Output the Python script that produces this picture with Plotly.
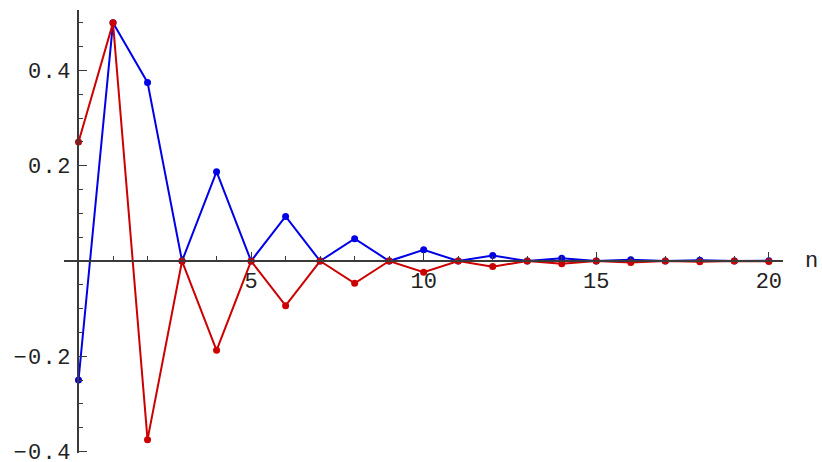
import plotly.graph_objects as go

n = list(range(21))
blue = [-0.25, 0.5, 0.375, 0, 0.1875, 0, 0.09375, 0, 0.046875, 0, 0.0234375, 0,
        0.01171875, 0, 0.005859375, 0, 0.0029296875, 0, 0.00146484375, 0, 0.000732421875]
red = [0.25, 0.5, -0.375, 0, -0.1875, 0, -0.09375, 0, -0.046875, 0, -0.0234375, 0,
       -0.01171875, 0, -0.005859375, 0, -0.0029296875, 0, -0.00146484375, 0, -0.000732421875]

hs = "\u200a"
x_tickvals = [0, 5, 10, 15, 20]
x_ticktext = ["", "5", "10", "15", "20"]
y_tickvals = [-0.4, -0.2, 0, 0.2, 0.4]
y_ticktext = ["\u2212" + hs + "0" + hs + "." + hs + "4",
              "\u2212" + hs + "0" + hs + "." + hs + "2",
              "",
              "0" + hs + "." + hs + "2",
              "0" + hs + "." + hs + "4"]

xmin, xmax = -0.42, 20.41
ymin, ymax = -0.403, 0.527

fig = go.Figure()
fig.add_trace(go.Scatter(x=n, y=blue, mode="lines+markers",
                         line=dict(color="#0000e6", width=2),
                         marker=dict(color="#0000e6", size=7), cliponaxis=False))
fig.add_trace(go.Scatter(x=n, y=red, mode="lines+markers",
                         line=dict(color="#cc0000", width=2),
                         marker=dict(color="#cc0000", size=7), cliponaxis=False))

font = dict(family="Liberation Mono", size=22, color="#222222")
axcol = "#3a3a3a"

fig.update_layout(
    width=822, height=462,
    margin=dict(l=64, r=39, t=10, b=9, autoexpand=False),
    paper_bgcolor="white", plot_bgcolor="white",
    showlegend=False,
    xaxis=dict(range=[xmin, xmax], anchor="free",
               position=(0 - ymin) / (ymax - ymin),
               showgrid=False, zeroline=False, automargin=False,
               showline=True, linecolor=axcol, linewidth=1.5,
               tickmode="array", tickvals=x_tickvals, ticktext=x_ticktext,
               ticks="inside", ticklen=8, tickwidth=1.2, tickcolor=axcol,
               minor=dict(tickmode="linear", tick0=0, dtick=1, ticks="inside",
                          ticklen=4, tickwidth=1, tickcolor=axcol),
               tickfont=font, ticklabeloverflow="allow"),
    yaxis=dict(range=[ymin, ymax], anchor="free",
               position=(0 - xmin) / (xmax - xmin),
               showgrid=False, zeroline=False, automargin=False,
               showline=True, linecolor=axcol, linewidth=1.5,
               tickmode="array", tickvals=y_tickvals, ticktext=y_ticktext,
               ticks="inside", ticklen=8, tickwidth=1.2, tickcolor=axcol,
               minor=dict(tickmode="linear", tick0=0, dtick=0.05, ticks="inside",
                          ticklen=4, tickwidth=1, tickcolor=axcol),
               tickfont=font, ticklabeloverflow="allow", ticklabelstandoff=3),
)
fig.add_annotation(text="n", xref="paper", yref="paper", x=1,
                   y=(0 - ymin) / (ymax - ymin), xanchor="left", yanchor="middle",
                   xshift=20, showarrow=False, font=font)

fig.write_html("out.html", config={"displayModeBar": False},
               post_script="document.body.style.margin='0px';")
